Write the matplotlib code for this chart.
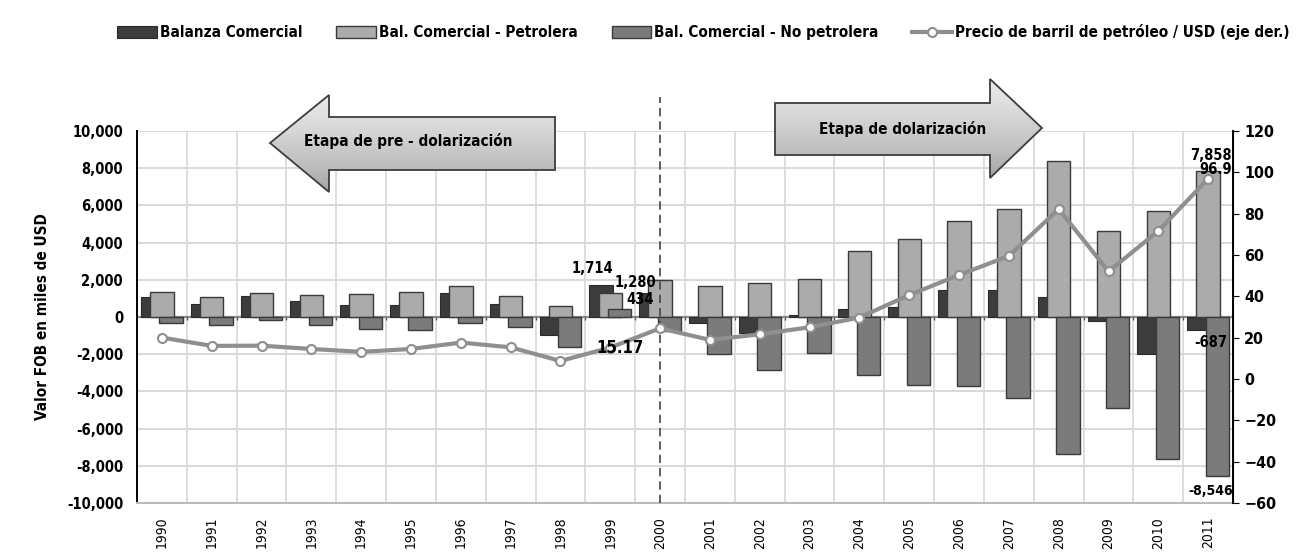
import numpy as np
import matplotlib
matplotlib.use('Agg')
import matplotlib.pyplot as plt
from matplotlib.patches import Polygon
from matplotlib.ticker import FuncFormatter

plt.rcParams['font.family'] = ['DejaVu Sans']
plt.rcParams['font.stretch'] = 'condensed'
plt.rcParams['font.weight'] = 'bold'
plt.rcParams['axes.labelweight'] = 'bold'

# datos (miles de USD y USD/barril)
years = [str(y) for y in range(1990, 2012)]
balanza = [1080, 720, 1130, 860, 630, 630, 1280, 720, -990, 1714, 1260,
           -306, -880, 100, 450, 540, 1460, 1440, 1080, -216, -2016, -687]
petrolera = [1350, 1080, 1280, 1190, 1220, 1350, 1640, 1150, 610, 1280, 1960,
             1660, 1800, 2016, 3530, 4200, 5180, 5780, 8400, 4640, 5670, 7858]
no_petrolera = [-340, -450, -160, -450, -630, -700, -340, -520, -1600, 434, -760,
                -2016, -2830, -1930, -3100, -3670, -3730, -4360, -7380, -4900, -7620, -8546]
precio = [20.0, 16.0, 16.1, 14.5, 13.1, 14.5, 17.6, 15.3, 8.7, 15.17, 24.5,
          18.9, 21.6, 25.0, 29.7, 40.6, 50.3, 59.5, 82.2, 52.0, 71.6, 96.9]

c_bal = '#3c3c3c'
c_pet = '#ababab'
c_nop = '#7b7b7b'
c_line = '#8f8f8f'

fig = plt.figure(figsize=(12.98, 5.57), dpi=100)
ax = fig.add_axes([0.1055, 0.097, 0.8445, 0.668])
ax2 = ax.twinx()

x = np.arange(len(years))
w = 0.47
d = 0.185
ax.bar(x - d, balanza, w, color=c_bal, edgecolor='#2a2a2a', linewidth=0.8, zorder=3,
       label='Balanza Comercial')
ax.bar(x, petrolera, w, color=c_pet, edgecolor='#3a3a3a', linewidth=1.0, zorder=4,
       label='Bal. Comercial - Petrolera')
ax.bar(x + d, no_petrolera, w, color=c_nop, edgecolor='#3a3a3a', linewidth=1.0, zorder=5,
       label='Bal. Comercial - No petrolera')

ax2.plot(x, precio, color=c_line, lw=3, marker='o', ms=6.5, mfc='white', mec=c_line,
         mew=1.5, zorder=6, label='Precio de barril de petróleo / USD (eje der.)')

ax.set_xlim(-0.5, len(years) - 0.5)
ax.set_ylim(-10000, 10000)
ax.set_yticks(np.arange(-10000, 10001, 2000))
ax.yaxis.set_major_formatter(FuncFormatter(lambda v, p: f'{int(v):,}'))
ax2.set_ylim(-60, 120)
ax2.set_yticks(np.arange(-60, 121, 20))

ax.set_xticks(x)
ax.set_xticklabels(years, rotation=90, fontsize=10, fontweight='normal')
ax.tick_params(axis='x', length=0, pad=10)
ax.tick_params(axis='y', length=0, labelsize=10.5, pad=10)
ax2.tick_params(axis='y', length=4, labelsize=11.5, pad=4)

# rejilla
ax.set_xticks(np.arange(-0.5, len(years), 1), minor=True)
ax.tick_params(axis='x', which='minor', length=0)
ax.grid(which='minor', axis='x', color='#d8d8d8', lw=1.2)
ax.grid(which='major', axis='y', color='#d8d8d8', lw=1.4)
ax.set_axisbelow(True)
ax.axhline(0, color='#8a8a8a', lw=1.6, zorder=2)
ax.vlines(np.arange(0.5, len(years) - 1, 1), -180, 0, color='#555555', lw=1, zorder=2)

ax.spines['top'].set_visible(False)
ax2.spines['top'].set_visible(False)
ax.spines['bottom'].set_color('#bbbbbb')
ax.spines['bottom'].set_linewidth(1.5)
ax2.spines['bottom'].set_visible(False)
ax.spines['left'].set_linewidth(1.4)
ax2.spines['right'].set_linewidth(1.4)
ax2.spines['left'].set_visible(False)

ax.set_ylabel('Valor FOB en miles de USD', fontsize=11, labelpad=12)

# linea de dolarizacion
ax.plot([10, 10], [-10000, 11800], color='#444444', lw=1.2, ls=(0, (5, 3)),
        clip_on=False, zorder=7)

# etiquetas de datos
lab = dict(fontsize=10.5, fontweight='bold', zorder=10)
i99 = years.index('1999')
ax.text(i99 - 0.35, balanza[i99] + 500, f'{balanza[i99]:,}', ha='center', va='bottom', **lab)
ax.text(i99 + 0.5, petrolera[i99] + 150, f'{petrolera[i99]:,}', ha='center', va='bottom', **lab)
ax.text(i99 + 0.6, no_petrolera[i99] + 100, f'{no_petrolera[i99]:,}', ha='center', va='bottom', **lab)
ax2.text(i99 + 0.2, precio[i99], f'{precio[i99]:.2f}', ha='center', va='center',
         fontsize=12, fontweight='bold', zorder=10)
i11 = years.index('2011')
ax.text(i11 + 0.05, petrolera[i11] + 400, f'{petrolera[i11]:,}', ha='center', va='bottom', **lab)
ax2.text(i11 + 0.15, precio[i11] + 1, f'{precio[i11]:.1f}', ha='center', va='bottom', **lab)
ax.text(i11 + 0.05, balanza[i11] - 300, f'{balanza[i11]:,}', ha='center', va='top', **lab)
ax.text(i11 + 0.05, no_petrolera[i11] - 450, f'{no_petrolera[i11]:,}', ha='center', va='top',
        fontsize=10, fontweight='bold', zorder=10)

# leyenda
h1, l1 = ax.get_legend_handles_labels()
h2, l2 = ax2.get_legend_handles_labels()
fig.legend(h1 + h2, l1 + l2, loc='center', bbox_to_anchor=(0.542, 0.942), ncol=4,
           frameon=False, fontsize=11, handlelength=2.6, handleheight=0.9,
           columnspacing=2.2, handletextpad=0.2)

# flechas de etapas (capa superior en pixeles)
ov = fig.add_axes([0, 0, 1, 1], zorder=20)
ov.set_xlim(0, 1298)
ov.set_ylim(557, 0)
ov.axis('off')
ov.patch.set_alpha(0)

grad = np.linspace(0, 1, 100).reshape(-1, 1)


def flecha(pts, texto, tx, ty):
    pts = np.array(pts)
    poly = Polygon(pts, closed=True, facecolor='none', edgecolor='#3d3d3d', lw=1.3, zorder=22)
    ov.add_patch(poly)
    x0, x1 = pts[:, 0].min(), pts[:, 0].max()
    y0, y1 = pts[:, 1].min(), pts[:, 1].max()
    im = ov.imshow(grad, cmap='Greys', vmin=-0.5, vmax=2.8, extent=[x0, x1, y1, y0],
                   aspect='auto', zorder=21)
    im.set_clip_path(poly)
    ov.text(tx, ty, texto, ha='center', va='center', fontsize=11, fontweight='bold', zorder=23)


flecha([(270, 143), (329, 95), (329, 117), (555, 117), (555, 170), (329, 170), (329, 192)],
       'Etapa de pre - dolarización', 408, 141)
flecha([(775, 103), (990, 103), (990, 79), (1042, 128), (990, 178), (990, 155), (775, 155)],
       'Etapa de dolarización', 903, 129)
ov.set_xlim(0, 1298)
ov.set_ylim(557, 0)

fig.savefig('out.png', dpi=100, facecolor='white')
